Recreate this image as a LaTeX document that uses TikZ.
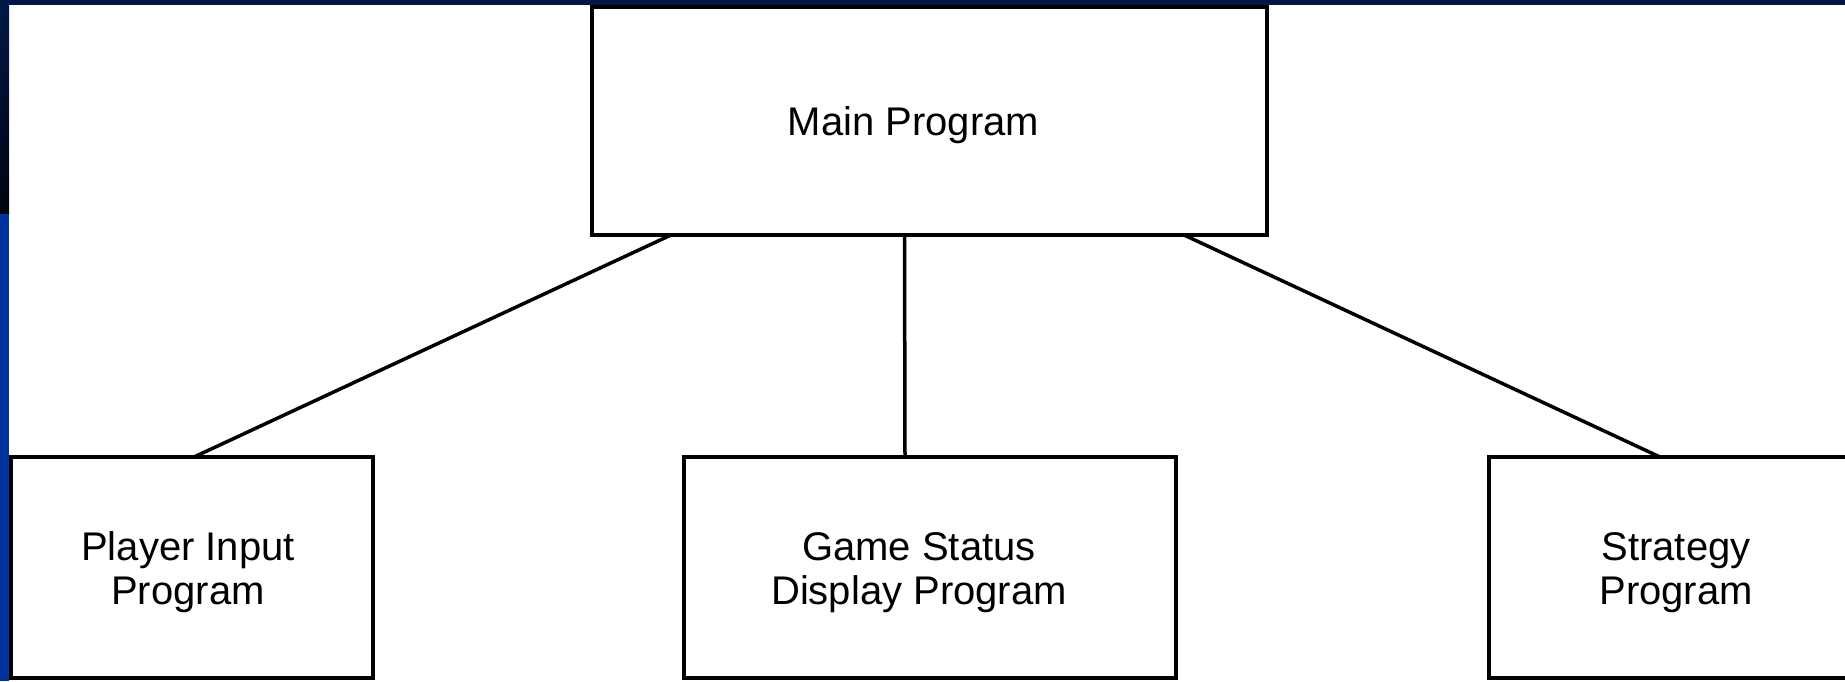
\documentclass[tikz,border=0pt]{standalone}
\usepackage{fontspec}
\setmainfont{Liberation Sans}
\definecolor{navy}{HTML}{001848}
\definecolor{deepnavy}{HTML}{00040E}
\definecolor{sideblue}{HTML}{00339E}
\begin{document}
\begin{tikzpicture}[x=1pt,y=-1pt,
  progbox/.style={draw=black, line width=3.5pt, fill=white, inner sep=0pt, outer sep=0pt},
  boxtext/.style={align=center, inner sep=0pt, font=\fontsize{40}{44}\selectfont},
  link/.style={draw=black, line width=3.5pt}]
\useasboundingbox (0,0) rectangle (1845,681);
\fill[white] (0,0) rectangle (1845,681);
% frame bands
\fill[navy] (0,0) rectangle (1845,5);
\shade[top color=navy, bottom color=deepnavy] (0,0) rectangle (9,214);
\fill[sideblue] (0,214) rectangle (9,681);
% boxes
\node[progbox, minimum width=675pt, minimum height=228pt] (main) at (929.5,121) {};
\node[progbox, minimum width=362pt, minimum height=221pt] (pin) at (192,567.5) {};
\node[progbox, minimum width=492pt, minimum height=221pt] (gsd) at (930,567.5) {};
\node[progbox, minimum width=370pt, minimum height=221pt] (strat) at (1674,567.5) {};
% texts
\node[boxtext] (maint) at ([xshift=-16pt,yshift=-4pt]main.center) {Main Program};
\node[boxtext] (pint) at ([xshift=-4pt,yshift=-5pt]pin.center) {Player Input\\Program};
\node[boxtext] (gsdt) at ([xshift=-11pt,yshift=-5pt]gsd.center) {Game Status\\Display Program};
\node[boxtext] (stratt) at ([xshift=2pt,yshift=-5pt]strat.center) {Strategy\\Program};
% connectors
\draw[link] ([xshift=79pt]main.south west) -- ([xshift=183pt]pin.north west);
\draw[link] ([xshift=-25pt]main.south) -- ([xshift=-25pt]gsd.north);
\draw[link] ([xshift=-83pt]main.south east) -- ([xshift=171pt]strat.north west);
\end{tikzpicture}
\end{document}
